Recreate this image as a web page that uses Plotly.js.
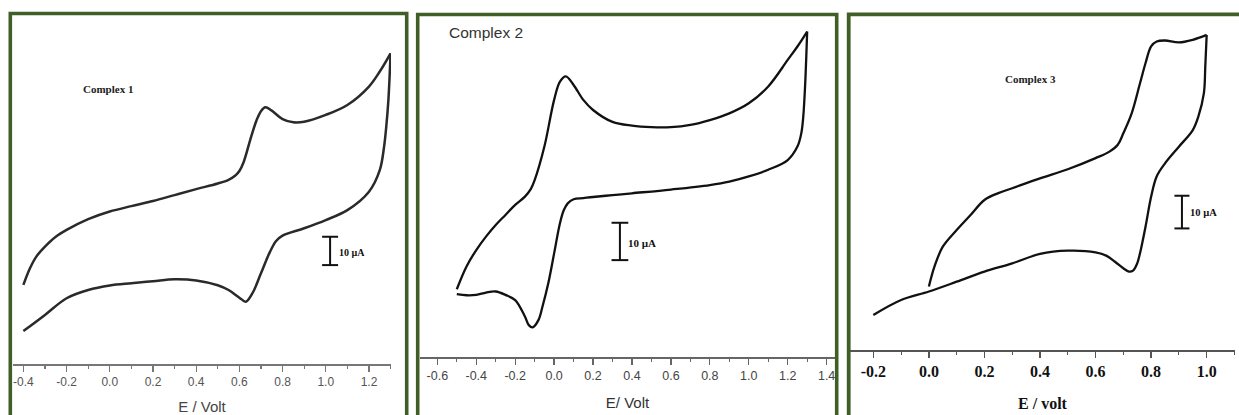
<!DOCTYPE html>
<html>
<head>
<meta charset="utf-8">
<script src="https://cdn.plot.ly/plotly-3.0.1.min.js"></script>
<style>html,body{margin:0;padding:0;background:#fff;}#chart{width:1239px;height:415px;}</style>
</head>
<body>
<div id="chart"></div>
<script>
// ---- Complex 1 (current in µA, arbitrary offset) ----
const c1FwdE = [-0.4, -0.37, -0.34, -0.3, -0.25, -0.2, -0.1, 0.0, 0.1, 0.2, 0.3, 0.4, 0.5, 0.55, 0.58, 0.6, 0.62, 0.65, 0.68, 0.7, 0.72, 0.75, 0.8, 0.85, 0.9, 1.0, 1.1, 1.2, 1.25, 1.3];
const c1FwdI = [17.1, 22.9, 27.1, 30.6, 34.1, 36.5, 40.3, 43.0, 44.9, 46.7, 48.8, 50.9, 52.9, 54.2, 55.6, 57.3, 60.5, 68.2, 75.3, 78.4, 79.8, 78.6, 75.6, 74.5, 74.7, 77.1, 80.6, 87.1, 92.4, 98.8];
const c1RevE = [1.3, 1.29, 1.28, 1.27, 1.25, 1.2, 1.1, 1.0, 0.9, 0.8, 0.77, 0.74, 0.7, 0.66, 0.63, 0.6, 0.55, 0.5, 0.4, 0.3, 0.2, 0.1, 0.0, -0.1, -0.2, -0.3, -0.4];
const c1RevI = [98.8, 82.4, 72.9, 65.9, 57.6, 50.0, 43.5, 40.0, 37.1, 34.5, 32.6, 28.5, 21.2, 14.1, 11.2, 12.6, 15.3, 17.0, 18.7, 19.1, 18.4, 17.7, 16.9, 15.3, 12.4, 6.5, 0.8];

// ---- Complex 2 ----
const c2FwdE = [-0.5, -0.45, -0.4, -0.35, -0.3, -0.25, -0.2, -0.15, -0.12, -0.1, -0.05, 0.0, 0.03, 0.06, 0.1, 0.15, 0.2, 0.3, 0.4, 0.5, 0.6, 0.7, 0.8, 0.9, 1.0, 1.1, 1.2, 1.25, 1.3];
const c2FwdI = [11.8, 17.9, 22.3, 25.9, 29.0, 31.7, 34.4, 36.6, 38.6, 41.0, 50.0, 62.5, 67.4, 68.8, 66.5, 62.5, 59.8, 56.6, 55.6, 55.2, 55.2, 55.8, 57.1, 58.9, 61.6, 66.1, 73.2, 76.8, 80.8];
const c2RevE = [1.3, 1.29, 1.28, 1.27, 1.25, 1.2, 1.1, 1.0, 0.9, 0.8, 0.6, 0.4, 0.3, 0.2, 0.15, 0.1, 0.07, 0.05, 0.03, 0.0, -0.03, -0.06, -0.08, -0.11, -0.13, -0.15, -0.2, -0.25, -0.3, -0.35, -0.4, -0.45, -0.5];
const c2RevI = [80.8, 67.0, 58.0, 53.6, 50.0, 46.4, 43.8, 42.0, 40.6, 39.7, 38.5, 37.5, 37.0, 36.5, 36.2, 35.9, 34.8, 33.0, 29.5, 21.4, 13.4, 7.1, 3.6, 1.6, 2.2, 4.5, 8.9, 10.3, 11.2, 10.9, 10.3, 10.2, 10.5];

// ---- Complex 3 ----
const c3FwdE = [0.0, 0.02, 0.05, 0.1, 0.15, 0.2, 0.25, 0.3, 0.4, 0.5, 0.6, 0.65, 0.68, 0.7, 0.73, 0.76, 0.78, 0.8, 0.82, 0.85, 0.9, 0.95, 1.0];
const c3FwdI = [14.3, 20.4, 26.5, 31.6, 36.2, 40.8, 42.9, 44.4, 47.4, 50.2, 53.6, 55.6, 57.7, 61.2, 67.3, 76.5, 82.7, 87.8, 89.3, 89.6, 89.0, 89.8, 91.3];
const c3RevE = [1.0, 0.995, 0.99, 0.97, 0.95, 0.9, 0.85, 0.82, 0.8, 0.78, 0.76, 0.75, 0.735, 0.72, 0.7, 0.67, 0.64, 0.6, 0.5, 0.4, 0.3, 0.2, 0.1, 0.0, -0.1, -0.2];
const c3RevI = [91.3, 81.6, 73.5, 66.3, 62.2, 57.1, 52.0, 48.0, 41.8, 32.7, 24.5, 21.4, 19.2, 18.9, 19.9, 21.9, 23.7, 24.8, 25.3, 24.3, 21.4, 18.9, 15.8, 12.8, 10.2, 5.6];

// tick labels
const tick1 = [-0.4, -0.2, 0.0, 0.2, 0.4, 0.6, 0.8, 1.0, 1.2];
const tick2 = [-0.6, -0.4, -0.2, 0.0, 0.2, 0.4, 0.6, 0.8, 1.0, 1.2, 1.4];
const tick3 = [-0.2, 0.0, 0.2, 0.4, 0.6, 0.8, 1.0];
const titles = ["Complex 1", "Complex 2", "Complex 3"];
const xTitles = ["E / Volt", "E/ Volt", "E / volt"];
const SCALE_UA = 10;
const scaleLabel = "10 µA";

const W = 1239, H = 415;
const px = v => v / W;
const py = v => 1 - v / H;

function tr(x, y, xa, ya, col, w) {
  return {x: x, y: y, xaxis: xa, yaxis: ya, type: 'scatter', mode: 'lines',
    line: {color: col, width: w, shape: 'spline', smoothing: 1.0}, hoverinfo: 'skip'};
}
const data = [
  tr(c1FwdE, c1FwdI, 'x', 'y', '#2a2a2a', 2.5), tr(c1RevE, c1RevI, 'x', 'y', '#2a2a2a', 2.5),
  tr(c2FwdE, c2FwdI, 'x2', 'y2', '#111', 2.3), tr(c2RevE, c2RevI, 'x2', 'y2', '#111', 2.3),
  tr(c3FwdE, c3FwdI, 'x3', 'y3', '#111', 2.3), tr(c3RevE, c3RevI, 'x3', 'y3', '#111', 2.3)
];

const sans = 'Liberation Sans, Arial, sans-serif';
const serif = 'Liberation Serif, Times New Roman, serif';

function xax(dom, range, ticks, fontSpec, lineCol, yanchor, title, titleFont, standoff) {
  return {
    domain: dom, range: range, anchor: yanchor, tickmode: 'array', tickvals: ticks,
    ticktext: ticks.map(v => v.toFixed(1)),
    ticks: 'outside', ticklen: 6, tickwidth: 1.3, tickcolor: lineCol,
    minor: {dtick: 0.1, tick0: 0, ticks: 'outside', ticklen: 3, tickwidth: 1.2, tickcolor: lineCol},
    showline: true, linecolor: lineCol, linewidth: 1.6, showgrid: false, zeroline: false,
    tickfont: fontSpec, fixedrange: true,
    title: {text: title, font: titleFont, standoff: standoff}, automargin: false
  };
}
function yax(dom, range, xanchor) {
  return {domain: dom, range: range, anchor: xanchor, visible: false, showgrid: false, zeroline: false, fixedrange: true};
}

const green = '#3f5f27';
const shapes = [
  {type: 'rect', xref: 'paper', yref: 'paper', x0: px(10.3), x1: px(406.7), y0: py(13.5), y1: py(430), line: {color: green, width: 3.6}},
  {type: 'rect', xref: 'paper', yref: 'paper', x0: px(417.7), x1: px(836.7), y0: py(14.5), y1: py(430), line: {color: green, width: 3.6}},
  {type: 'rect', xref: 'paper', yref: 'paper', x0: px(848.7), x1: px(1260), y0: py(14.3), y1: py(430), line: {color: green, width: 3.8}}
];
function scaleBar(xa, ya, xc, half, yb) {
  const c = '#111';
  shapes.push({type: 'line', xref: xa, yref: ya, x0: xc, x1: xc, y0: yb, y1: yb + SCALE_UA, line: {color: c, width: 2}});
  shapes.push({type: 'line', xref: xa, yref: ya, x0: xc - half, x1: xc + half, y0: yb, y1: yb, line: {color: c, width: 2}});
  shapes.push({type: 'line', xref: xa, yref: ya, x0: xc - half, x1: xc + half, y0: yb + SCALE_UA, y1: yb + SCALE_UA, line: {color: c, width: 2}});
}
scaleBar('x', 'y', 1.02, 0.037, 24.1);
scaleBar('x2', 'y2', 0.338, 0.043, 19.6);
scaleBar('x3', 'y3', 0.911, 0.027, 32.1);

function ann(text, x, y, font) {
  return {text: text, xref: 'paper', yref: 'paper', x: px(x), y: py(y), xanchor: 'center', yanchor: 'middle', showarrow: false, font: font};
}
const annotations = [
  ann(titles[0], 107.5, 89, {family: serif, size: 11, color: '#222', weight: 'bold'}),
  ann(titles[1], 485.5, 32, {family: sans, size: 15.5, color: '#333'}),
  ann(titles[2], 1030.5, 79, {family: serif, size: 11, color: '#222', weight: 'bold'}),
  ann(scaleLabel, 352, 252, {family: serif, size: 10, color: '#111', weight: 'bold'}),
  ann(scaleLabel, 642, 243, {family: serif, size: 11, color: '#111', weight: 'bold'}),
  ann(scaleLabel, 1203.5, 212, {family: serif, size: 10.5, color: '#111', weight: 'bold'})
];

const layout = {
  width: W, height: H, margin: {l: 0, r: 0, t: 0, b: 0}, paper_bgcolor: '#fff', plot_bgcolor: 'rgba(0,0,0,0)',
  showlegend: false,
  xaxis: xax([px(13), px(391)], [-0.448, 1.302], tick1, {family: sans, size: 12, color: '#555'}, '#777', 'y',
    xTitles[0], {family: sans, size: 15, color: '#444'}, 14),
  yaxis: yax([py(364), py(12)], [-10.8, 113.4], 'x'),
  xaxis2: xax([px(420), px(835)], [-0.689, 1.443], tick2, {family: sans, size: 12.5, color: '#444'}, '#666', 'y2',
    xTitles[1], {family: sans, size: 15, color: '#333'}, 16),
  yaxis2: yax([py(357), py(14)], [-6.34, 85.5], 'x2'),
  xaxis3: xax([px(850), px(1235)], [-0.284, 1.102], tick3, {family: serif, size: 16, color: '#111', weight: 'bold'}, '#555', 'y3',
    xTitles[2], {family: serif, size: 16, color: '#111', weight: 'bold'}, 19),
  yaxis3: yax([py(350), py(15)], [-5.1, 97.4], 'x3'),
  shapes: shapes, annotations: annotations
};
Plotly.newPlot('chart', data, layout, {staticPlot: true, displayModeBar: false});
</script>
</body>
</html>
